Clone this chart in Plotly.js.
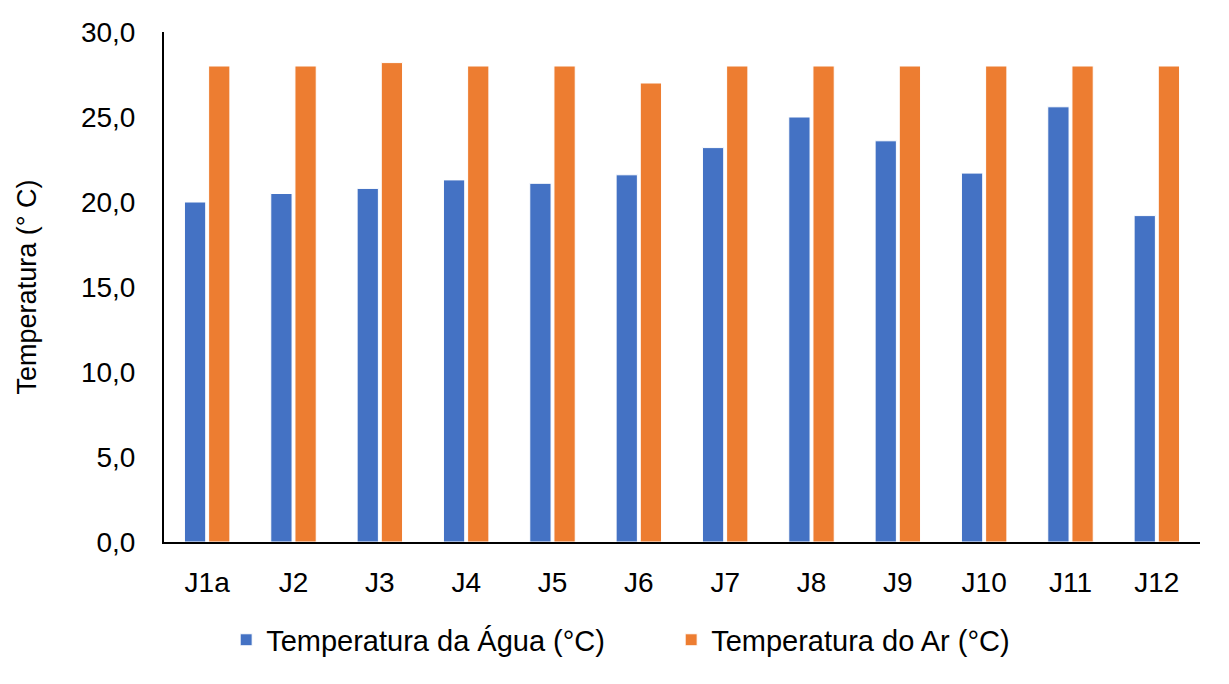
<!DOCTYPE html>
<html>
<head>
<meta charset="utf-8">
<script src="https://cdn.plot.ly/plotly-3.0.1.min.js"></script>
<style>html,body{margin:0;padding:0;background:#fff}#chart{width:1229px;height:684px}</style>
</head>
<body>
<div id="chart"></div>
<script>
var categories = ['J1a','J2','J3','J4','J5','J6','J7','J8','J9','J10','J11','J12'];
var aguaValues = [20.0, 20.5, 20.8, 21.3, 21.1, 21.6, 23.2, 25.0, 23.6, 21.7, 25.6, 19.2];
var arValues   = [28.0, 28.0, 28.2, 28.0, 28.0, 27.0, 28.0, 28.0, 28.0, 28.0, 28.0, 28.0];
var seriesNames = ['Temperatura da Água (°C)', 'Temperatura do Ar (°C)'];
var yTitle = 'Temperatura (° C)';

var font = 'Liberation Sans, Arial, sans-serif';
var data = [
  {type:'bar', x:categories, y:aguaValues, name:seriesNames[0],
   marker:{color:'#4472C4', line:{color:'#ffffff', width:1}}},
  {type:'bar', x:categories, y:arValues, name:seriesNames[1],
   marker:{color:'#ED7D31', line:{color:'#ffffff', width:1}}}
];
var layout = {
  width:1229, height:684,
  margin:{l:164, r:29, t:32, b:142},
  paper_bgcolor:'#fff', plot_bgcolor:'#fff',
  separators:',.',
  font:{family:font, size:28, color:'#000'},
  barmode:'group', bargap:0.44, bargroupgap:0.12,
  showlegend:true,
  legend:{orientation:'h', x:0.06, xanchor:'left', y:-0.192, yanchor:'middle',
          font:{family:font, size:29, color:'#000'}, itemwidth:30, traceorder:'normal',
          entrywidth:400, entrywidthmode:'pixels'},
  xaxis:{showline:true, linecolor:'#000', linewidth:2, ticks:'', showgrid:false,
         tickfont:{family:font, size:28, color:'#000'}, ticklabelstandoff:14},
  yaxis:{range:[0,30], dtick:5, tickformat:'.1f', showline:true, linecolor:'#000', linewidth:2,
         ticks:'', showgrid:false, zeroline:false, ticklabelstandoff:21,
         tickfont:{family:font, size:28, color:'#000'},
         title:{text:yTitle, font:{family:font, size:27, color:'#000'}, standoff:36}}
};
Plotly.newPlot('chart', data, layout, {displayModeBar:false, staticPlot:true});
</script>
</body>
</html>
